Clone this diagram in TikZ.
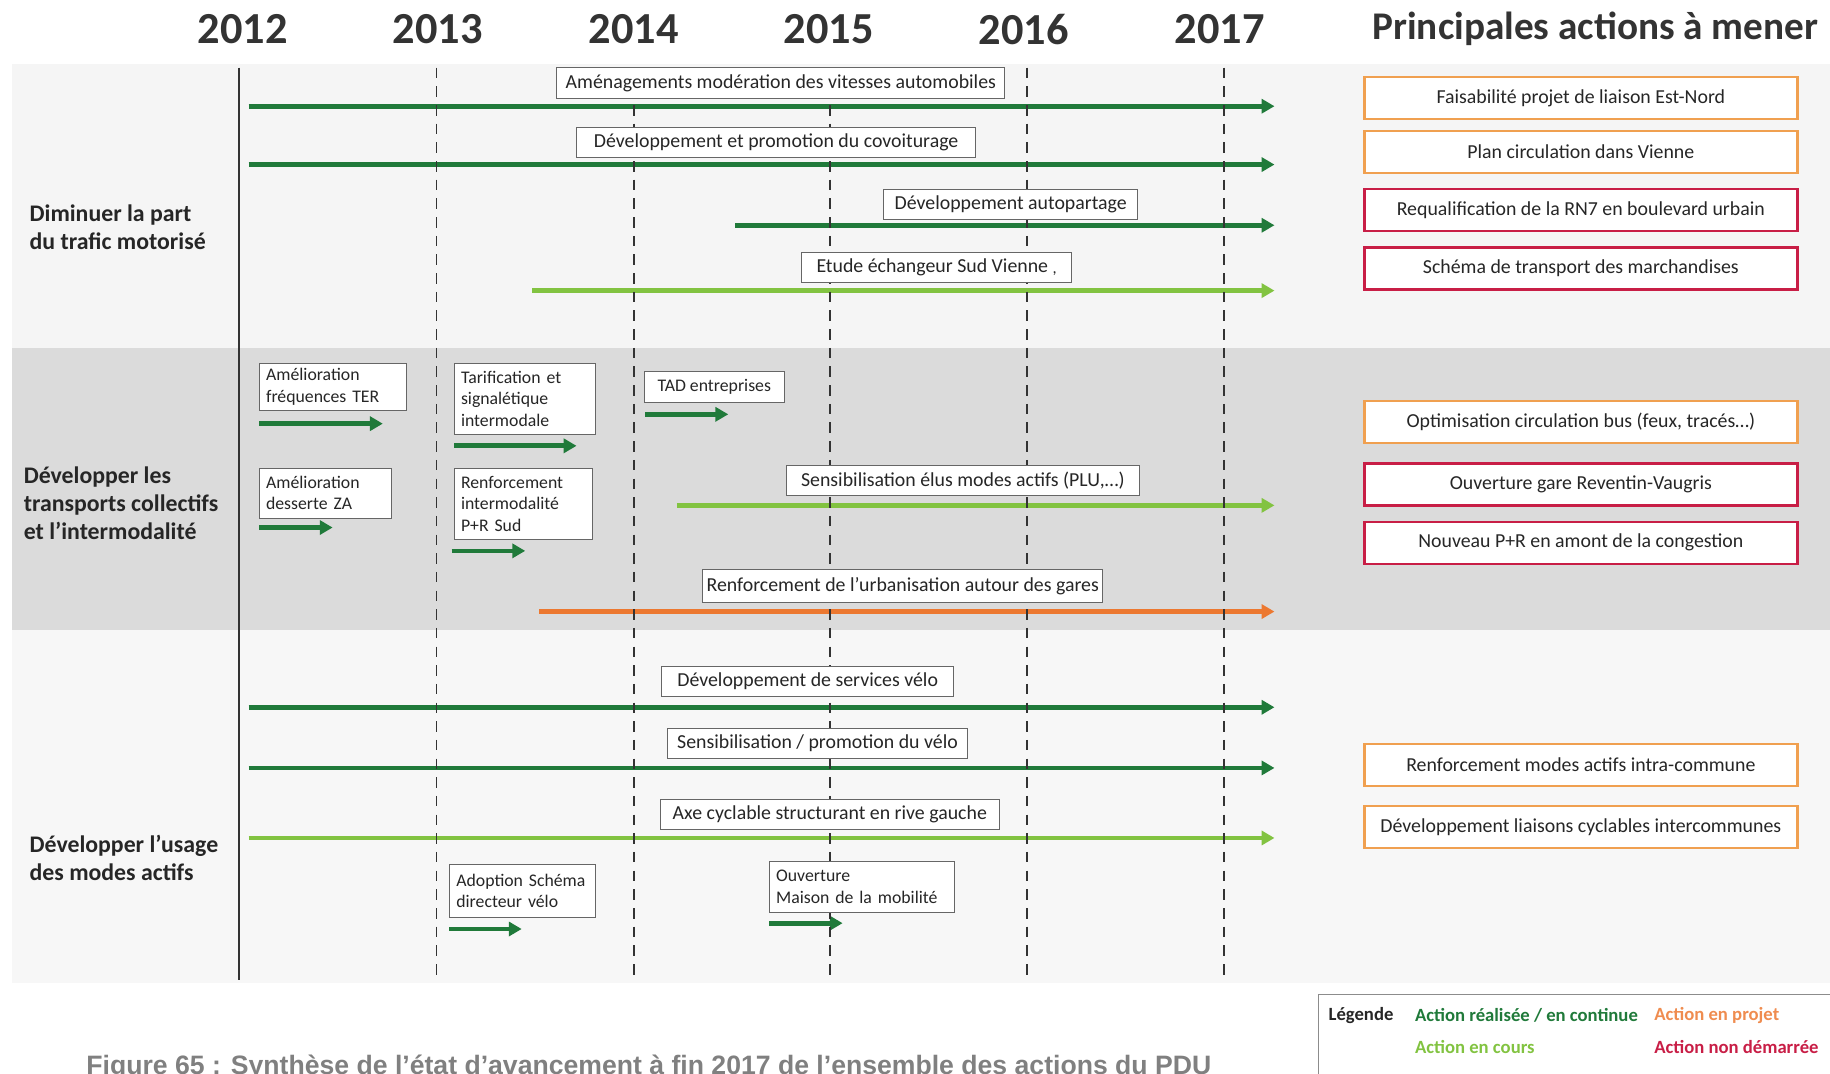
\documentclass[tikz,border=0pt]{standalone}
\usepackage{fontspec}
\setmainfont{Carlito}
\newfontfamily\capfont{Liberation Sans}
\usepackage{xcolor}
\usetikzlibrary{arrows.meta}

\definecolor{done}{RGB}{32,122,58}
\definecolor{ongoing}{RGB}{130,195,65}
\definecolor{planned}{RGB}{236,120,48}
\definecolor{planbox}{RGB}{240,160,80}
\definecolor{stalled}{RGB}{200,30,70}
\definecolor{ink}{RGB}{38,38,38}

\begin{document}
\begin{tikzpicture}[x=0.5pt, y=-0.5pt,
  box/.style      = {draw=black!60, line width=0.4pt, fill=white, text=ink, inner sep=0pt,
                     minimum height=13pt, font=\fontsize{8.5}{10}\selectfont},
  sbox/.style     = {box, align=left, inner xsep=3pt, inner ysep=2pt,
                     font=\fontsize{7.6}{9.2}\selectfont},
  todo/.style     = {draw=#1, line width=1pt, fill=white, text=ink, inner sep=0pt,
                     minimum width=185.5pt, minimum height=18pt, font=\fontsize{8.5}{10}\selectfont},
  actbar/.style   = {draw=#1, line width=2pt, -{Triangle[length=5.5pt,width=6pt]}},
  yearline/.style = {black!80, line width=0.75pt, dash pattern=on 4.5pt off 3.5pt},
  year/.style     = {text=black!80, font=\fontsize{19}{22}\selectfont\bfseries},
  theme/.style    = {anchor=west, align=left, inner sep=0pt, text=ink,
                     font=\fontsize{10.2}{12}\selectfont\bfseries},
  leg/.style      = {anchor=west, inner sep=0pt, font=\fontsize{8}{9}\selectfont\bfseries}
]
\useasboundingbox (0,0) rectangle (1568,920);

%% ---- bands ---------------------------------------------------------
\fill[black!4]  (10,55)  rectangle (1568,298);
\fill[black!14] (10,298) rectangle (1568,540);
\fill[black!3]  (10,540) rectangle (1568,842);

%% ---- years ---------------------------------------------------------
\foreach \x/\yr in {208/2012, 375/2013, 543/2014, 710/2015, 877/2016, 1045/2017}
  \node[year] (y\yr) at (\x,25) {\yr};
\node[year, font=\fontsize{16.8}{20}\selectfont\bfseries] (titre) at (1367,25) {Principales actions à mener};

%% ---- timeline bars -------------------------------------------------
\foreach \ya/\xa/\col in {91/213/done, 141/213/done, 193/630/done, 249/456/ongoing,
                          433/580/ongoing, 524/462/planned,
                          606/213/done, 658/213/done, 718/213/ongoing}
  \draw[actbar=\col] (\xa,\ya) -- (1092,\ya);
\foreach \ya/\xa/\xb in {363/222/328, 382/389/494, 355/553/624, 452/222/285,
                         472/387/450, 796/385/447, 791/659/722}
  \draw[actbar=done] (\xa,\ya) -- (\xb,\ya);

\draw[black!80, line width=0.8pt] (205,58) -- (205,840);
\foreach \x in {374,543,711,880,1049}
  \draw[yearline] (\x,58) -- (\x,836);

%% ---- themes --------------------------------------------------------
\node[theme] (trafic) at (25,194.5) {Diminuer la part\\du trafic motorisé};
\node[theme] (tc) at (20,431.5) {Développer les\\transports collectifs\\et l’intermodalité};
\node[theme] (actifs) at (25,735) {Développer l’usage\\des modes actifs};

%% ---- actions: trafic -----------------------------------------------
\node[box, minimum width=192pt] (amenag) at (669,71) {Aménagements modération des vitesses automobiles};
\node[box, minimum width=171pt] (covoit) at (665,122) {Développement et promotion du covoiturage};
\node[box, minimum width=109pt] (autopart) at (866,175) {Développement autopartage};
\node[box, minimum width=115.5pt] (echang) at (802.5,229)
  {Etude échangeur Sud Vienne\ \raisebox{-0.5pt}{\fontsize{7}{7}\selectfont ,}};

%% ---- actions: transports collectifs --------------------------------
\node[sbox, text width=57pt, minimum height=20.5pt] (freqter) at (285,331.5) {Amélioration\\fréquences TER};
\node[sbox, text width=54.5pt, minimum height=30.5pt] (tarif) at (449.5,341.5) {Tarification et\\signalétique\\intermodale};
\node[box, minimum width=60pt, minimum height=13.5pt, font=\fontsize{7.6}{9.2}\selectfont] (tad) at (612,331.5) {TAD entreprises};
\node[sbox, text width=50.5pt, minimum height=21.5pt] (dessza) at (278.5,422.5) {Amélioration\\desserte ZA};
\node[sbox, text width=53.5pt, minimum height=30.5pt] (prsud) at (448.5,431.5) {Renforcement\\intermodalité\\P+R Sud};
\node[box, minimum width=151pt] (elus) at (825,411.5) {Sensibilisation élus modes actifs (PLU,…)};
\node[box, minimum width=171.5pt, minimum height=14pt] (urba) at (773.5,502) {Renforcement de l’urbanisation autour des gares};

%% ---- actions: modes actifs -----------------------------------------
\node[box, minimum width=125pt] (velo) at (692,584) {Développement de services vélo};
\node[box, minimum width=128.5pt] (promo) at (700.5,637) {Sensibilisation / promotion du vélo};
\node[box, minimum width=145pt] (axe) at (711,698) {Axe cyclable structurant en rive gauche};
\node[sbox, text width=56.5pt, minimum height=22.5pt] (schema) at (447.5,763.5) {Adoption Schéma\\directeur vélo};
\node[sbox, text width=73.5pt, minimum height=22pt] (maison) at (738.5,760) {Ouverture\\Maison de la mobilité};

%% ---- actions a mener -----------------------------------------------
\node[todo=planbox] (estnord) at (1354.5,84)  {Faisabilité projet de liaison Est-Nord};
\node[todo=planbox] (plancirc) at (1354.5,130) {Plan circulation dans Vienne};
\node[todo=stalled] (rn7)     at (1354.5,180) {Requalification de la RN7 en boulevard urbain};
\node[todo=stalled] (fret)    at (1354.5,230) {Schéma de transport des marchandises};
\node[todo=planbox] (bus)     at (1354.5,361.5) {Optimisation circulation bus (feux, tracés…)};
\node[todo=stalled] (gare)    at (1354.5,415) {Ouverture gare Reventin-Vaugris};
\node[todo=stalled] (pramont) at (1354.5,465) {Nouveau P+R en amont de la congestion};
\node[todo=planbox] (intra)   at (1354.5,655.5) {Renforcement modes actifs intra-commune};
\node[todo=planbox] (inter)   at (1354.5,708.5) {Développement liaisons cyclables intercommunes};

%% ---- legende -------------------------------------------------------
\draw[black!45, line width=0.5pt] (1130,930) -- (1130,852) -- (1580,852);
\node[leg, text=ink] (legende) at (1138,870) {Légende};
\node[leg, text=done] (lgdone) at (1212,870) {Action réalisée / en continue};
\node[leg, text=planned!85] (lgproj) at (1417,870) {Action en projet};
\node[leg, text=ongoing] (lgcours) at (1212,897) {Action en cours};
\node[leg, text=stalled] (lgstop) at (1417,897) {Action non démarrée};

%% ---- caption -------------------------------------------------------
\node[anchor=base, text=black!50, font=\capfont\fontsize{11.4}{13}\selectfont\bfseries] (caption) at (556,921)
  {Figure 65 : Synthèse de l’état d’avancement à fin 2017 de l’ensemble des actions du PDU};
\end{tikzpicture}
\end{document}
